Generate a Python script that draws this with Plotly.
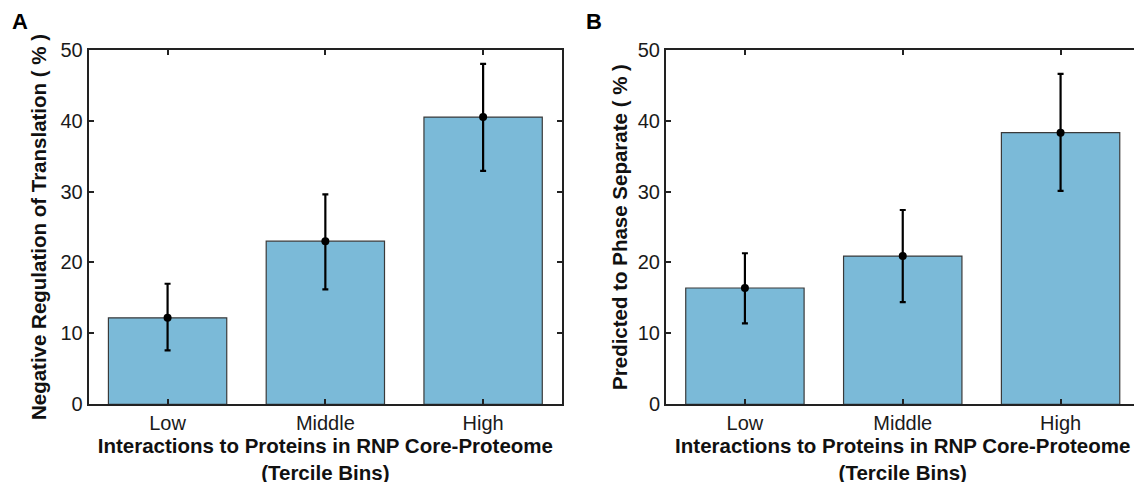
import plotly.graph_objects as go

categories = ["Low", "Middle", "High"]

# Panel A: Negative Regulation of Translation (%)
a_values = [12.2, 23.0, 40.5]
a_err_plus = [4.8, 6.6, 7.5]
a_err_minus = [4.6, 6.8, 7.6]

# Panel B: Predicted to Phase Separate (%)
b_values = [16.4, 20.9, 38.3]
b_err_plus = [4.9, 6.5, 8.3]
b_err_minus = [5.0, 6.5, 8.2]

y_ticks = [0, 10, 20, 30, 40, 50]

BAR_COLOR = "#7bbad8"
AX_COLOR = "#222222"
FONT = "Arial, Liberation Sans, sans-serif"

W, H = 1142, 482
OFF = 8  # page body margin offset


def px_x(x):
    return (x - OFF) / W


def px_y(y):
    return 1 - (y - OFF) / H


fig = go.Figure()

panels = [
    ("x", "y", a_values, a_err_plus, a_err_minus),
    ("x2", "y2", b_values, b_err_plus, b_err_minus),
]
for xa, ya, vals, ep, em in panels:
    fig.add_trace(go.Bar(
        x=categories, y=vals, xaxis=xa, yaxis=ya, width=0.75,
        marker=dict(color=BAR_COLOR, line=dict(color="#3a3a3a", width=1.2)),
        showlegend=False, hoverinfo="y",
    ))
    fig.add_trace(go.Scatter(
        x=categories, y=vals, xaxis=xa, yaxis=ya, mode="markers",
        marker=dict(color="black", size=8),
        error_y=dict(type="data", array=ep, arrayminus=em, symmetric=False,
                     color="black", thickness=2.2, width=3),
        showlegend=False, hoverinfo="y",
    ))

xcommon = dict(
    range=[-0.5, 2.5], showline=True, linecolor=AX_COLOR, linewidth=2,
    mirror="ticks", ticks="inside", ticklen=5, tickwidth=1.5, tickcolor=AX_COLOR,
    tickfont=dict(family=FONT, size=20, color="#1a1a1a"),
    showgrid=False, zeroline=False, automargin=False,
    title=dict(text="<b>Interactions to Proteins in RNP Core-Proteome</b><br><b>(Tercile Bins)</b>",
               font=dict(family=FONT, size=20.5, color="#111111"), standoff=4),
)
ycommon = dict(
    range=[0, 50], tickvals=y_ticks, showline=True, linecolor=AX_COLOR, linewidth=2,
    mirror="ticks", ticks="inside", ticklen=5, tickwidth=1.5, tickcolor=AX_COLOR,
    tickfont=dict(family=FONT, size=20, color="#1a1a1a"),
    showgrid=False, zeroline=False, automargin=False,
)

fig.update_layout(
    width=W, height=H,
    margin=dict(l=0, r=0, t=0, b=0),
    plot_bgcolor="white", paper_bgcolor="white",
    xaxis=dict(domain=[px_x(88.7), px_x(562)], anchor="y", **xcommon),
    xaxis2=dict(domain=[px_x(666), px_x(1139.5)], anchor="y2", **xcommon),
    yaxis=dict(domain=[px_y(404.3), px_y(49.7)], anchor="x",
               title=dict(text="<b>Negative Regulation of Translation ( % )</b>",
                          font=dict(family=FONT, size=20.5, color="#111111"), standoff=8),
               **ycommon),
    yaxis2=dict(domain=[px_y(404.3), px_y(49.7)], anchor="x2",
                title=dict(text="<b>Predicted to Phase Separate ( % )</b>",
                           font=dict(family=FONT, size=20.5, color="#111111"), standoff=5),
                **ycommon),
    annotations=[
        dict(text="<b>A</b>", x=px_x(20), y=px_y(21), xref="paper", yref="paper",
             xanchor="center", yanchor="middle", borderpad=0,
             showarrow=False, font=dict(family=FONT, size=22, color="black")),
        dict(text="<b>B</b>", x=px_x(593.5), y=px_y(21), xref="paper", yref="paper",
             xanchor="center", yanchor="middle", borderpad=0,
             showarrow=False, font=dict(family=FONT, size=22, color="black")),
    ],
)

fig.write_html("out.html")
